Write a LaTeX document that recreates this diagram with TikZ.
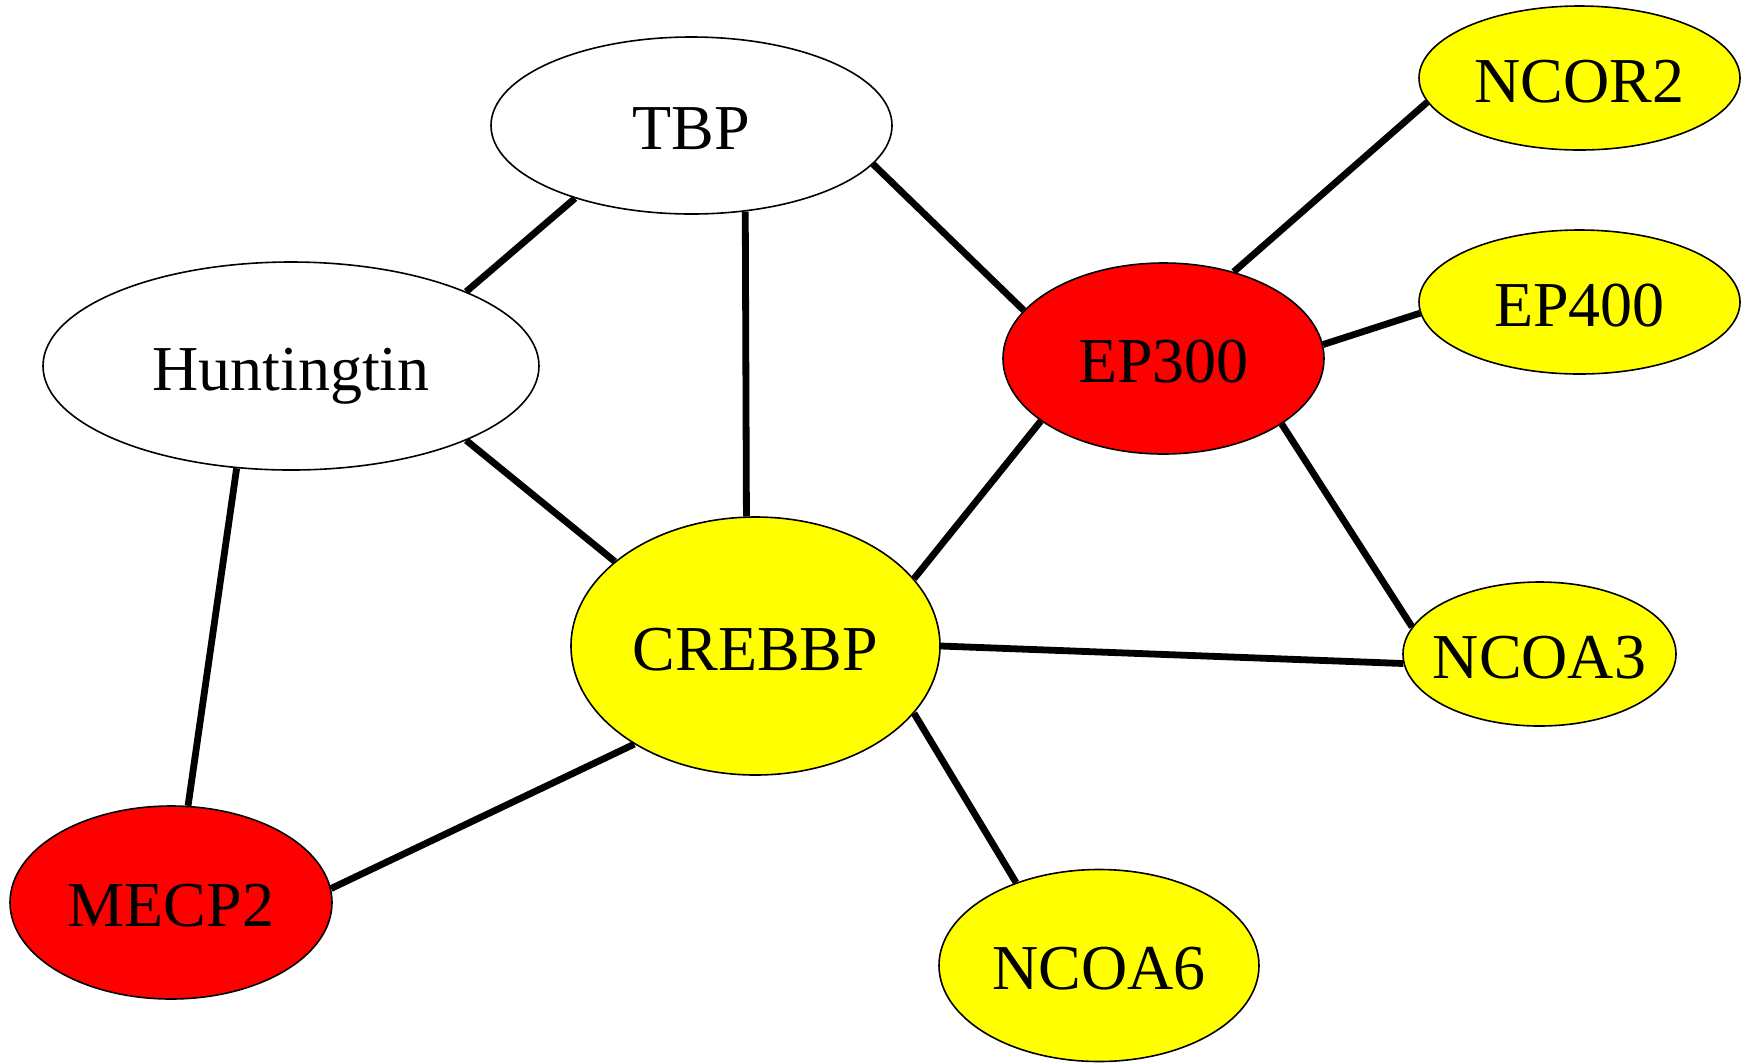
\documentclass[tikz,border=0pt]{standalone}
\usepackage{fontspec}
\setmainfont{Liberation Serif}
\usetikzlibrary{shapes.geometric}
\definecolor{nodeyellow}{RGB}{255,255,0}
\definecolor{nodered}{RGB}{255,0,0}
\begin{document}
\begin{tikzpicture}[x=0.5pt,y=-0.5pt,
  nd/.style={ellipse, draw=black, line width=0.8pt, inner sep=0pt},
  lbl/.style={font=\fontsize{32}{38}\selectfont, text height=24pt, text depth=0pt, inner sep=0pt},
  edge/.style={line width=3.4pt, draw=black, line cap=butt}]
\useasboundingbox (0,0) rectangle (1747,1062);
\node[nd, fill=white, minimum width=200.5pt, minimum height=88.5pt, label={[lbl]center:TBP}] (tbp) at (691.5,125.5) {};
\node[nd, fill=white, minimum width=248pt, minimum height=104pt, label={[lbl]center:Huntingtin}] (hunt) at (291,366) {};
\node[nd, fill=nodered, minimum width=160.5pt, minimum height=95.5pt, label={[lbl]center:EP300}] (ep300) at (1163.5,358.5) {};
\node[nd, fill=nodeyellow, minimum width=184.5pt, minimum height=129pt, label={[lbl]center:CREBBP}] (crebbp) at (755.5,646) {};
\node[nd, fill=nodered, minimum width=161pt, minimum height=96.5pt, label={[lbl]center:MECP2}] (mecp2) at (171,902.5) {};
\node[nd, fill=nodeyellow, minimum width=160.5pt, minimum height=72pt, label={[lbl]center:NCOR2}] (ncor2) at (1579.5,78) {};
\node[nd, fill=nodeyellow, minimum width=160.5pt, minimum height=72pt, label={[lbl]center:EP400}] (ep400) at (1579.5,302) {};
\node[nd, fill=nodeyellow, minimum width=136.5pt, minimum height=72pt, label={[lbl]center:NCOA3}] (ncoa3) at (1539.5,654) {};
\node[nd, fill=nodeyellow, minimum width=160pt, minimum height=96pt, label={[lbl]center:NCOA6}] (ncoa6) at (1099,965.5) {};
\draw[edge] (tbp.-148.7) -- (hunt.23);
\draw[edge] (tbp.-58.4) -- (crebbp.94);
\draw[edge] (tbp.-12.8) -- (ep300.161.3);
\draw[edge] (hunt.-23.7) -- (crebbp.149.4);
\draw[edge] (hunt.-118) -- (mecp2.80.5);
\draw[edge] (ncor2.-171.4) -- (ep300.51.1);
\draw[edge] (ep300.5.8) -- (ep400.-176.8);
\draw[edge] (ep300.-153.6) -- (crebbp.23.1);
\draw[edge] (ep300.-29.8) -- (ncoa3.168.6);
\draw[edge] (crebbp.0.3) -- (ncoa3.-176.2);
\draw[edge] (crebbp.-141.4) -- (mecp2.5.1);
\draw[edge] (crebbp.-23) -- (ncoa6.135.5);
\end{tikzpicture}
\end{document}
